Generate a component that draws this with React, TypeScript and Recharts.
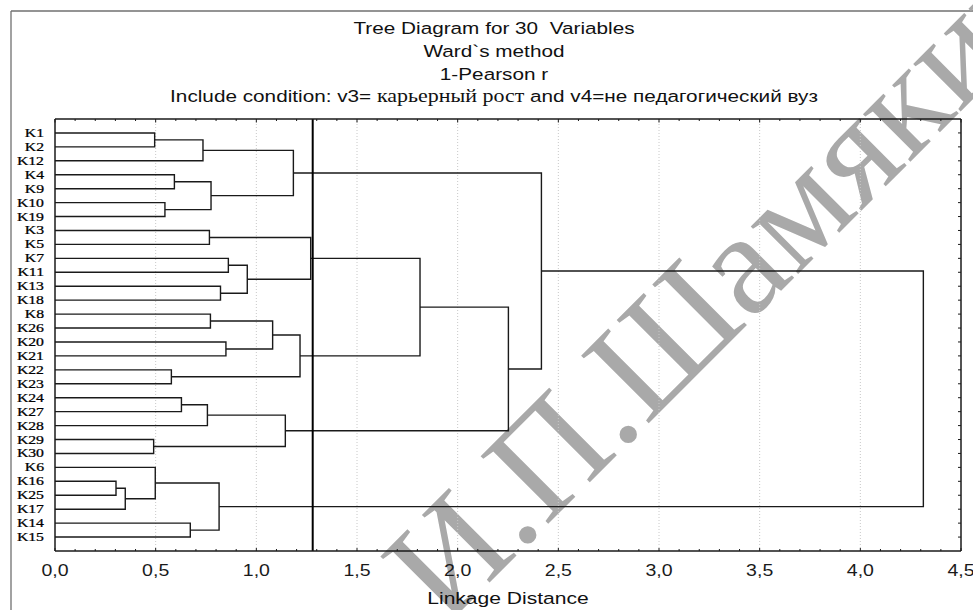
import React from 'react';
import { ComposedChart, Line, XAxis, YAxis, ReferenceLine } from 'recharts';

// ---------- text ----------
const titleLines = ['Tree Diagram for 30  Variables', 'Ward`s method', '1-Pearson r'];
const conditionPrefix = 'Include condition: v3= ';
const conditionSerif = 'карьерный рост';
const conditionSuffix = ' and v4=не педагогический вуз';
const xAxisTitle = 'Linkage Distance';
const watermarkText = 'И.П.Шамякин';

// ---------- data ----------
// leaf order, top to bottom
const leaves = [
  'K1', 'K2', 'K12', 'K4', 'K9', 'K10', 'K19', 'K3', 'K5', 'K7', 'K11', 'K13', 'K18', 'K8', 'K26',
  'K20', 'K21', 'K22', 'K23', 'K24', 'K27', 'K28', 'K29', 'K30', 'K6', 'K16', 'K25', 'K17', 'K14', 'K15',
];

// merges: [left cluster, right cluster, linkage distance]; merge i creates cluster "m{i}"
const merges: Array<[string, string, number]> = [
  ['K1', 'K2', 0.495], // m0
  ['m0', 'K12', 0.735], // m1
  ['K4', 'K9', 0.593], // m2
  ['K10', 'K19', 0.546], // m3
  ['m2', 'm3', 0.775], // m4
  ['m1', 'm4', 1.184], // m5
  ['K3', 'K5', 0.767], // m6
  ['K7', 'K11', 0.861], // m7
  ['K13', 'K18', 0.822], // m8
  ['m7', 'm8', 0.955], // m9
  ['m6', 'm9', 1.27], // m10
  ['K8', 'K26', 0.772], // m11
  ['K20', 'K21', 0.849], // m12
  ['m11', 'm12', 1.081], // m13
  ['K22', 'K23', 0.578], // m14
  ['m13', 'm14', 1.217], // m15
  ['K24', 'K27', 0.628], // m16
  ['m16', 'K28', 0.757], // m17
  ['K29', 'K30', 0.49], // m18
  ['m17', 'm18', 1.144], // m19
  ['K16', 'K25', 0.303], // m20
  ['m20', 'K17', 0.349], // m21
  ['K6', 'm21', 0.498], // m22
  ['K14', 'K15', 0.672], // m23
  ['m22', 'm23', 0.815], // m24
  ['m10', 'm15', 1.813], // m25
  ['m25', 'm19', 2.252], // m26
  ['m5', 'm26', 2.416], // m27
  ['m27', 'm24', 4.313], // m28
];

const cutoffDistance = 1.28;
const xMajorTicks = [0, 0.5, 1, 1.5, 2, 2.5, 3, 3.5, 4, 4.5];
const xMinorPerMajor = 5;

// ---------- derived ----------
const xDomain: [number, number] = [0, 4.5];
const yDomain: [number, number] = [0, leaves.length + 1];
const leafTicks = leaves.map((_, i) => i + 1);
const xAllTicks: number[] = [];
for (let i = 0; i < xMajorTicks.length - 1; i++) {
  for (let j = 0; j < xMinorPerMajor; j++) {
    const a = xMajorTicks[i];
    const b = xMajorTicks[i + 1];
    xAllTicks.push(Math.round((a + ((b - a) * j) / xMinorPerMajor) * 1000) / 1000);
  }
}
xAllTicks.push(xMajorTicks[xMajorTicks.length - 1]);
const gridTicks = xMajorTicks.slice(1, -1);

type Pt = { x: number; y: number };
const nodes: Record<string, { y: number; h: number }> = {};
leaves.forEach((k, i) => {
  nodes[k] = { y: i + 1, h: 0 };
});
const links: Pt[][] = merges.map(([a, b, h], i) => {
  const A = nodes[a];
  const B = nodes[b];
  nodes['m' + i] = { y: (A.y + B.y) / 2, h };
  return [
    { x: A.h, y: A.y },
    { x: h, y: A.y },
    { x: h, y: B.y },
    { x: B.h, y: B.y },
  ];
});

const SANS = "'Liberation Sans', Arial, Helvetica, sans-serif";
const SERIF = "'Liberation Serif', 'Times New Roman', Times, serif";
const SX = 1.22;
const INK = '#1a1a1a';

const isMajor = (v: number) => xMajorTicks.some((m) => Math.abs(m - v) < 1e-6);
const fmt = (v: number) => v.toFixed(1).replace('.', ',');

const BottomTick = (props: any) => {
  const { x, y, payload } = props;
  const v = payload.value as number;
  const major = isMajor(v);
  return (
    <g>
      <line x1={x} x2={x} y1={y} y2={y - (major ? 3 : 2)} stroke={INK} strokeWidth={1} />
      {major && (
        <text
          transform={`translate(${x},${y + 25}) scale(1.22,1)`}
          textAnchor="middle"
          fontFamily={SANS}
          fontSize={16}
          fill={INK}
        >
          {fmt(v)}
        </text>
      )}
    </g>
  );
};

const TopTick = (props: any) => {
  const { x, y, payload } = props;
  const major = isMajor(payload.value as number);
  return <line x1={x} x2={x} y1={y} y2={y + (major ? 3.5 : 2)} stroke={INK} strokeWidth={1} />;
};

const LeftTick = (props: any) => {
  const { x, y, payload } = props;
  const label = leaves[(payload.value as number) - 1] ?? '';
  return (
    <text
      transform={`translate(${x - 11},${y + 4}) scale(1.26,1)`}
      textAnchor="end"
      fontFamily={SERIF}
      fontSize={12.5}
      fill="#000"
      stroke="#000"
      strokeWidth={0.25}
    >
      {label}
    </text>
  );
};

const RightTick = (props: any) => {
  const { x, y } = props;
  return <line x1={x} x2={x - 3} y1={y} y2={y} stroke={INK} strokeWidth={1} />;
};

export default function App() {
  return (
    <div style={{ position: 'absolute', left: 0, top: 0, width: 973, height: 610, background: '#fff', overflow: 'hidden' }}>
      <svg width={973} height={610} style={{ position: 'absolute', left: 0, top: 0 }}>
        <line x1={11} y1={11} x2={973} y2={11} stroke="#707070" strokeWidth={1.3} />
        <line x1={11} y1={11} x2={11} y2={610} stroke="#707070" strokeWidth={1.3} />
        <text
          transform="translate(445,627) rotate(-45)"
          fontFamily={SERIF}
          fontSize={146}
          fill="#a9a9a9"
        >
          {watermarkText}
        </text>
        {titleLines.map((t, i) => (
          <text
            key={i}
            transform={`translate(494,${[34, 57, 80][i]}) scale(${SX},1)`}
            textAnchor="middle"
            fontFamily={SANS}
            fontSize={17}
            fill="#111"
            style={{ whiteSpace: 'pre' }}
          >
            {t}
          </text>
        ))}
        <text
          transform={`translate(494,102) scale(${SX},1)`}
          textAnchor="middle"
          fontFamily={SANS}
          fontSize={17}
          fill="#111"
          style={{ whiteSpace: 'pre' }}
        >
          <tspan>{conditionPrefix}</tspan>
          <tspan fontFamily={SERIF} fontSize={18}>{conditionSerif}</tspan>
          <tspan>{conditionSuffix}</tspan>
        </text>
        <text
          transform={`translate(508,604) scale(1.24,1)`}
          textAnchor="middle"
          fontFamily={SANS}
          fontSize={17}
          fill="#111"
        >
          {xAxisTitle}
        </text>
      </svg>
      <div style={{ position: 'absolute', left: 0, top: 0 }}>
        <ComposedChart width={973} height={610} margin={{ top: 118, right: 0, bottom: 0, left: 0 }}>
          <XAxis
            xAxisId="b"
            type="number"
            dataKey="x"
            orientation="bottom"
            domain={xDomain}
            ticks={xAllTicks}
            interval={0}
            height={59}
            tickSize={0}
            tickMargin={0}
            tickLine={false}
            allowDataOverflow
            axisLine={{ stroke: INK, strokeWidth: 1.5 }}
            tick={<BottomTick />}
          />
          <XAxis
            xAxisId="t"
            type="number"
            dataKey="x"
            orientation="top"
            domain={xDomain}
            ticks={xAllTicks}
            interval={0}
            height={1}
            tickSize={0}
            tickMargin={0}
            tickLine={false}
            allowDataOverflow
            axisLine={{ stroke: INK, strokeWidth: 1.5 }}
            tick={<TopTick />}
          />
          <YAxis
            yAxisId="l"
            type="number"
            orientation="left"
            domain={yDomain}
            reversed
            ticks={leafTicks}
            interval={0}
            width={55}
            tickSize={0}
            tickMargin={0}
            tickLine={false}
            allowDataOverflow
            axisLine={{ stroke: INK, strokeWidth: 1.5 }}
            tick={<LeftTick />}
          />
          <YAxis
            yAxisId="r"
            type="number"
            orientation="right"
            domain={yDomain}
            reversed
            ticks={leafTicks}
            interval={0}
            width={12}
            tickSize={0}
            tickMargin={0}
            tickLine={false}
            allowDataOverflow
            axisLine={{ stroke: INK, strokeWidth: 1.5 }}
            tick={<RightTick />}
          />
          {gridTicks.map((g) => (
            <ReferenceLine
              key={'g' + g}
              xAxisId="b"
              yAxisId="l"
              x={g}
              stroke="#c8c8c8"
              strokeWidth={1}
              strokeDasharray="1 2"
            />
          ))}
          {links.map((pts, i) => (
            <Line
              key={'l' + i}
              xAxisId="b"
              yAxisId="l"
              data={pts}
              dataKey="y"
              type="linear"
              stroke={INK}
              strokeWidth={1.4}
              dot={false}
              activeDot={false}
              isAnimationActive={false}
              legendType="none"
            />
          ))}
          <ReferenceLine xAxisId="b" yAxisId="l" x={cutoffDistance} stroke="#000" strokeWidth={2} />
        </ComposedChart>
      </div>
    </div>
  );
}
